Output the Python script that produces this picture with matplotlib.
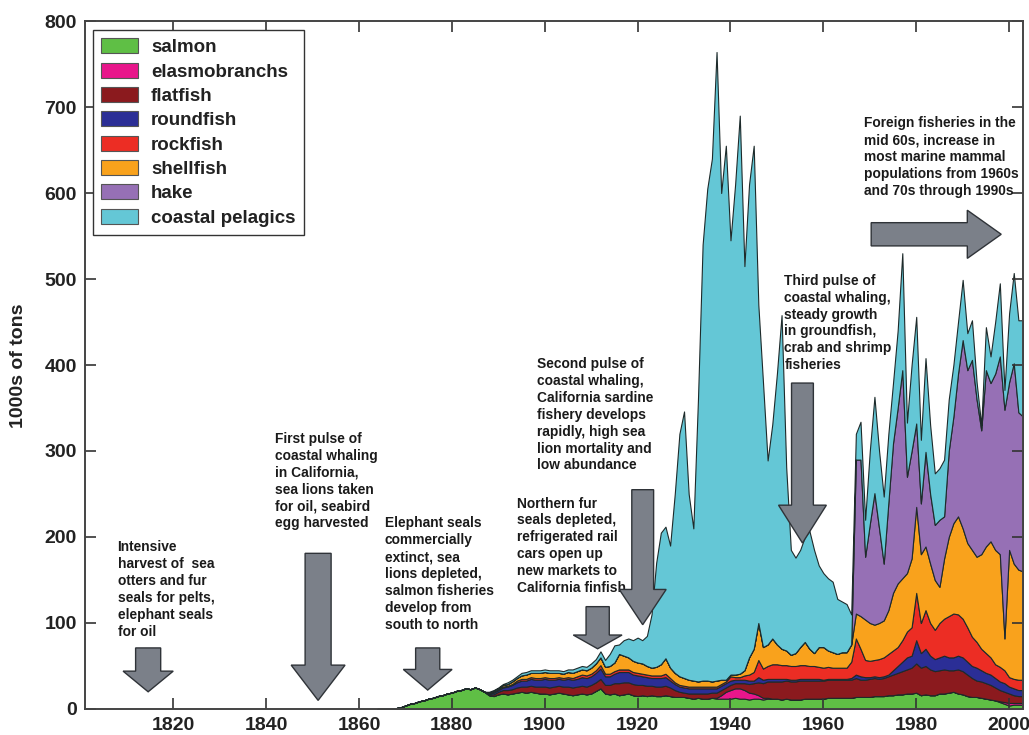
import numpy as np
import matplotlib
matplotlib.use("Agg")
import matplotlib.pyplot as plt
from matplotlib.patches import FancyArrow

plt.rcParams['font.family'] = ['Liberation Sans', 'DejaVu Sans']

# yearly landings, 1000s of tons, 1864-2003
years = np.arange(1864, 2004)

salmon = [0, 0, 0, 0, 1, 2,
          4, 6, 7, 9, 10, 12, 13, 15, 16, 18,
          19, 21, 22, 24, 23, 25, 23, 20, 16, 15,
          17, 18, 17, 18, 19, 20, 19, 20, 19, 18,
          18, 17, 18, 19, 18, 17, 16, 17, 18, 17,
          18, 21, 24, 18, 17, 18, 16, 17, 18, 16,
          15, 16, 15, 16, 15, 15, 16, 15, 14, 14,
          14, 13, 12, 13, 12, 12, 13, 12, 12, 12,
          12, 13, 12, 12, 11, 12, 12, 11, 12, 12,
          12, 11, 12, 11, 11, 11, 12, 12, 12, 12,
          12, 13, 13, 13, 13, 13, 13, 14, 14, 14,
          14, 15, 15, 15, 16, 16, 17, 17, 18, 18,
          19, 16, 17, 16, 16, 18, 18, 19, 20, 18,
          17, 15, 14, 14, 13, 12, 11, 10, 8, 6,
          4, 5, 5, 5]

elasmobranchs = [0, 0, 0, 0, 0, 0,
                 0, 0, 0, 0, 0, 0, 0, 0, 0, 0,
                 0, 0, 0, 0, 0, 0, 0, 0, 0, 0,
                 0, 0, 0, 0, 0, 0, 0, 0, 0, 0,
                 0, 0, 0, 0, 0, 0, 0, 0, 0, 0,
                 0, 0, 0, 0, 0, 0, 0, 0, 0, 0,
                 0, 0, 0, 0, 0, 0, 0, 0, 0, 0,
                 0, 0, 0, 0, 0, 0, 0, 1, 4, 8,
                 10, 11, 12, 10, 8, 6, 4, 2, 1, 0,
                 0, 0, 0, 0, 0, 0, 0, 0, 0, 0,
                 0, 0, 0, 0, 0, 0, 0, 0, 0, 0,
                 0, 0, 0, 0, 0, 0, 0, 0, 0, 0,
                 0, 0, 0, 0, 0, 0, 0, 0, 0, 0,
                 0, 0, 0, 0, 0, 0, 0, 0, 1, 2,
                 3, 2, 2, 2]

flatfish = [0, 0, 0, 0, 0, 0,
            0, 0, 0, 0, 0, 0, 0, 0, 0, 0,
            0, 0, 0, 0, 0, 0, 0, 0, 1, 2,
            3, 4, 5, 5, 6, 6, 7, 7, 7, 8,
            8, 8, 8, 8, 8, 9, 9, 9, 9, 9,
            10, 10, 11, 10, 11, 12, 14, 14, 13, 13,
            13, 12, 12, 11, 11, 11, 11, 10, 8, 6,
            5, 5, 6, 5, 6, 6, 6, 6, 6, 5,
            6, 6, 6, 8, 10, 12, 15, 17, 19, 20,
            20, 21, 21, 21, 21, 22, 21, 21, 21, 21,
            21, 21, 21, 21, 21, 21, 21, 22, 20, 20,
            21, 21, 20, 21, 22, 24, 25, 27, 28, 30,
            34, 32, 33, 30, 28, 27, 28, 26, 25, 28,
            27, 25, 22, 19, 19, 18, 17, 15, 13, 12,
            11, 9, 8, 8]

roundfish = [0, 0, 0, 0, 0, 0,
             0, 0, 0, 0, 0, 0, 0, 0, 0, 0,
             0, 0, 0, 0, 0, 0, 0, 0, 1, 2,
             2, 3, 4, 5, 6, 7, 7, 8, 8, 8,
             9, 9, 8, 8, 8, 9, 9, 9, 10, 10,
             10, 11, 12, 10, 10, 11, 13, 12, 12, 11,
             11, 10, 10, 9, 10, 10, 10, 8, 7, 6,
             6, 6, 6, 6, 6, 6, 5, 5, 5, 5,
             5, 4, 4, 4, 4, 3, 6, 4, 3, 3,
             3, 3, 2, 2, 2, 2, 2, 2, 2, 2,
             1, 1, 1, 1, 1, 1, 2, 4, 4, 3,
             2, 2, 2, 2, 2, 5, 8, 11, 14, 14,
             27, 17, 20, 16, 14, 15, 16, 15, 15, 16,
             16, 15, 14, 15, 13, 12, 12, 11, 10, 10,
             8, 8, 7, 7]

rockfish = [0, 0, 0, 0, 0, 0,
            0, 0, 0, 0, 0, 0, 0, 0, 0, 0,
            0, 0, 0, 0, 0, 0, 0, 0, 0, 1,
            1, 1, 1, 1, 2, 2, 2, 2, 2, 2,
            2, 2, 2, 2, 2, 2, 2, 3, 3, 3,
            3, 3, 4, 3, 3, 3, 3, 3, 3, 3,
            3, 3, 3, 3, 3, 3, 4, 3, 2, 2,
            2, 2, 2, 2, 2, 2, 2, 2, 2, 2,
            5, 3, 3, 5, 7, 10, 20, 13, 15, 17,
            17, 16, 16, 16, 16, 16, 16, 15, 15, 14,
            14, 14, 13, 13, 13, 13, 19, 42, 32, 20,
            19, 19, 21, 22, 24, 23, 22, 25, 30, 33,
            55, 35, 45, 38, 34, 40, 43, 48, 51, 48,
            45, 40, 34, 30, 25, 23, 20, 16, 17, 15,
            11, 11, 12, 12]

shellfish = [0, 0, 0, 0, 0, 0,
             0, 0, 0, 0, 0, 0, 0, 0, 0, 0,
             0, 0, 0, 0, 0, 0, 0, 0, 1, 1,
             1, 2, 2, 3, 3, 4, 5, 5, 6, 6,
             6, 6, 6, 5, 5, 6, 6, 6, 6, 6,
             7, 8, 9, 8, 9, 10, 18, 16, 14, 13,
             12, 12, 10, 9, 10, 13, 18, 12, 11, 10,
             9, 8, 7, 6, 7, 7, 6, 7, 5, 2,
             2, 3, 4, 6, 20, 27, 43, 25, 25, 30,
             23, 19, 17, 13, 15, 21, 27, 20, 15, 23,
             24, 19, 18, 16, 18, 18, 20, 29, 38, 47,
             44, 41, 42, 43, 51, 67, 74, 72, 68, 80,
             100, 80, 74, 69, 58, 42, 70, 92, 105, 114,
             105, 98, 101, 99, 110, 124, 135, 133, 131, 37,
             148, 134, 128, 126]

hake = [0, 0, 0, 0, 0, 0,
        0, 0, 0, 0, 0, 0, 0, 0, 0, 0,
        0, 0, 0, 0, 0, 0, 0, 0, 0, 0,
        0, 0, 0, 0, 0, 0, 0, 0, 0, 0,
        0, 0, 0, 0, 0, 0, 0, 0, 0, 0,
        0, 0, 0, 0, 0, 0, 0, 0, 0, 0,
        0, 0, 0, 0, 0, 0, 0, 0, 0, 0,
        0, 0, 0, 0, 0, 0, 0, 0, 0, 0,
        0, 0, 0, 0, 0, 0, 0, 0, 0, 0,
        0, 0, 0, 0, 0, 0, 0, 0, 0, 0,
        0, 0, 0, 0, 0, 0, 0, 179, 182, 73,
        115, 153, 110, 66, 125, 174, 204, 242, 112, 125,
        97, 59, 110, 81, 64, 78, 49, 100, 124, 166,
        219, 201, 221, 183, 144, 205, 184, 205, 230, 266,
        195, 233, 183, 180]

coastal_pelagics = [0, 0, 0, 0, 0, 0,
                    0, 0, 0, 0, 0, 0, 0, 0, 0, 0,
                    0, 0, 0, 0, 0, 0, 0, 0, 1, 1,
                    1, 1, 2, 2, 2, 3, 3, 3, 3, 3,
                    3, 3, 3, 3, 3, 3, 4, 4, 4, 4,
                    5, 5, 7, 8, 14, 20, 11, 18, 22, 24,
                    29, 27, 35, 62, 121, 153, 153, 142, 208, 282,
                    310, 216, 177, 328, 507, 572, 608, 731, 566, 621,
                    505, 570, 649, 470, 550, 585, 370, 308, 214, 249,
                    315, 388, 213, 122, 111, 113, 122, 137, 120, 95,
                    86, 84, 82, 64, 59, 56, 35, 30, 44, 43,
                    85, 112, 90, 78, 80, 70, 90, 136, 63, 100,
                    124, 74, 109, 80, 60, 60, 66, 60, 60, 60,
                    70, 43, 46, 20, 6, 50, 31, 60, 85, 23,
                    80, 105, 107, 112]

labels = ["salmon", "elasmobranchs", "flatfish", "roundfish",
          "rockfish", "shellfish", "hake", "coastal pelagics"]
colors = ["#5fbf45", "#e8168b", "#8b1a1e", "#2b2e96",
          "#ec2d24", "#f9a21c", "#9670b5", "#64c7d6"]

# annotation texts and where their top-left corner sits (year, 1000s of tons)
notes = [
    ("Intensive\nharvest of  sea\notters and fur\nseals for pelts,\nelephant seals\nfor oil", 1808.0, 196),
    ("First pulse of\ncoastal whaling\nin California,\nsea lions taken\nfor oil, seabird\negg harvested", 1841.9, 322),
    ("Elephant seals\ncommercially\nextinct, sea\nlions depleted,\nsalmon fisheries\ndevelop from\nsouth to north", 1865.6, 224),
    ("Northern fur\nseals depleted,\nrefrigerated rail\ncars open up\nnew markets to\nCalifornia finfish", 1894.0, 247),
    ("Second pulse of\ncoastal whaling,\nCalifornia sardine\nfishery develops\nrapidly, high sea\nlion mortality and\nlow abundance", 1898.3, 409),
    ("Third pulse of\ncoastal whaling,\nsteady growth\nin groundfish,\ncrab and shrimp\nfisheries", 1951.6, 506),
    ("Foreign fisheries in the\nmid 60s, increase in\nmost marine mammal\npopulations from 1960s\nand 70s through 1990s", 1968.8, 689),
]

# down arrows: x centre (year), top, tip, shaft width (yr), head width (yr), head length
down_arrows = [
    (1814.6, 71, 20, 5.4, 10.8, 24),
    (1851.2, 181, 10, 5.6, 11.6, 41),
    (1874.8, 71, 22, 5.2, 10.5, 24),
    (1911.4, 119, 70, 5.0, 10.5, 16),
    (1921.1, 255, 98, 4.7, 10.1, 41),
    (1955.5, 379, 193, 4.7, 10.3, 44),
]

fig = plt.figure(figsize=(10.29, 7.35), dpi=100)
ax = fig.add_axes([0.0826, 0.0354, 0.9116, 0.936])

ax.stackplot(years, salmon, elasmobranchs, flatfish, roundfish, rockfish,
             shellfish, hake, coastal_pelagics, labels=labels, colors=colors,
             edgecolor="#1e2a2a", linewidth=0.8)

ax.set_xlim(1801, 2003)
ax.set_ylim(0, 800)
ax.set_xticks(range(1820, 2001, 20))
ax.set_yticks(range(0, 801, 100))
ax.tick_params(direction="in", length=8, width=1.2, top=True, right=True,
               labelsize=14, pad=6, colors="#333333", labelcolor="#222222")
for lab in ax.get_xticklabels() + ax.get_yticklabels():
    lab.set_fontweight("bold")
for sp in ax.spines.values():
    sp.set_color("#444444")
    sp.set_linewidth(1.4)

fig.text(0.018, 0.503, "1000s of tons", rotation=90, ha="center", va="center",
         fontsize=14, fontweight="bold", color="#222222")

leg = ax.legend(loc="upper left", bbox_to_anchor=(0.0085, 0.987), borderaxespad=0,
                fontsize=13.5, fancybox=False, framealpha=1, edgecolor="#333333",
                handlelength=1.95, handleheight=0.85, labelspacing=0.34,
                handletextpad=0.7, borderpad=0.45)
leg.get_frame().set_linewidth(1.0)
for t in leg.get_texts():
    t.set_fontweight("bold")
    t.set_color("#222222")
for h in leg.legend_handles:
    h.set_edgecolor("#555555")
    h.set_linewidth(0.8)

for txt, x, y in notes:
    ax.text(x, y, txt, ha="left", va="top", fontsize=9.9, fontweight="bold",
            color="#1a1a1a", linespacing=1.26, zorder=6)

arrow_style = dict(facecolor="#7b8089", edgecolor="#2f3338", linewidth=1.0,
                   length_includes_head=True, zorder=7, clip_on=False)
for x, top, tip, w, hw, hl in down_arrows:
    ax.add_patch(FancyArrow(x, top, 0, tip - top, width=w, head_width=hw,
                            head_length=hl, **arrow_style))
# horizontal arrow for the foreign fisheries period
ax.add_patch(FancyArrow(1970.3, 552, 28.0, 0, width=27, head_width=56,
                        head_length=7.3, **arrow_style))

fig.savefig("out.png", dpi=100)
